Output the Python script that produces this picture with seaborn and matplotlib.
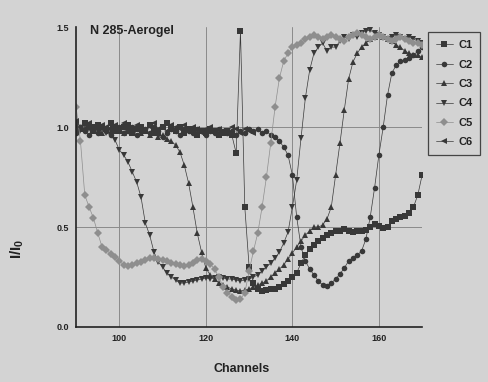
import numpy as np
import pandas as pd
import matplotlib
matplotlib.use("Agg")
import matplotlib.pyplot as plt
import seaborn as sns

channels = list(range(90, 171))

c1 = [1.01, 0.99, 1.02, 1.00, 0.98, 1.01, 1.00, 0.99, 1.02, 1.00,
      0.98, 1.00, 1.01, 0.97, 0.99, 1.00, 0.98, 1.01, 0.99, 0.97,
      1.00, 1.02, 0.99, 0.98, 1.00, 0.97, 0.99, 0.98, 0.96, 0.98,
      0.97, 0.99, 0.98, 0.96, 0.97, 0.98, 0.96, 0.87, 1.48, 0.60,
      0.30, 0.22, 0.19, 0.18, 0.185, 0.19, 0.19, 0.20, 0.215, 0.23,
      0.25, 0.27, 0.32, 0.36, 0.39, 0.41, 0.43, 0.445, 0.46, 0.47,
      0.48, 0.48, 0.49, 0.48, 0.475, 0.48, 0.48, 0.485, 0.50, 0.515,
      0.505, 0.495, 0.50, 0.53, 0.54, 0.55, 0.555, 0.57, 0.60, 0.66,
      0.76]

c2 = [0.97, 1.00, 0.98, 0.96, 0.99, 0.97, 1.00, 0.98, 0.96, 0.99,
      1.00, 0.97, 0.98, 1.00, 0.96, 0.98, 0.99, 0.97, 1.00, 0.98,
      0.95, 0.97, 0.99, 0.98, 0.96, 0.99, 0.98, 0.97, 0.99, 0.98,
      0.96, 0.98, 0.97, 0.99, 0.98, 0.97, 0.98, 0.96, 0.98, 0.97,
      0.99, 0.98, 0.99, 0.97, 0.98, 0.96, 0.95, 0.93, 0.90, 0.86,
      0.76, 0.55, 0.40, 0.33, 0.29, 0.26, 0.23, 0.21, 0.205, 0.22,
      0.24, 0.265, 0.295, 0.33, 0.345, 0.36, 0.38, 0.44, 0.55, 0.695,
      0.86, 1.00, 1.16, 1.27, 1.31, 1.33, 1.335, 1.345, 1.36, 1.38,
      1.40]

c3 = [0.98, 1.00, 0.99, 1.01, 0.98, 1.00, 0.97, 0.99, 1.00, 0.98,
      0.99, 0.97, 1.00, 0.98, 0.99, 0.97, 0.98, 0.96, 0.97, 0.95,
      0.96, 0.94, 0.93, 0.91, 0.875, 0.81, 0.72, 0.60, 0.47, 0.375,
      0.295, 0.26, 0.24, 0.22, 0.21, 0.20, 0.19, 0.185, 0.18, 0.185,
      0.19, 0.20, 0.21, 0.22, 0.23, 0.25, 0.27, 0.29, 0.31, 0.34,
      0.37, 0.40, 0.43, 0.46, 0.48, 0.50, 0.50, 0.51, 0.54, 0.60,
      0.76, 0.92, 1.085, 1.24, 1.325, 1.37, 1.40, 1.42, 1.44, 1.45,
      1.46, 1.45, 1.44, 1.43, 1.41, 1.40, 1.38, 1.37, 1.36, 1.36,
      1.35]

c4 = [1.00, 0.98, 1.01, 0.99, 1.00, 0.98, 0.99, 0.97, 0.96, 0.935,
      0.885, 0.86, 0.825, 0.775, 0.725, 0.65, 0.52, 0.46, 0.375, 0.325,
      0.30, 0.27, 0.25, 0.235, 0.22, 0.22, 0.225, 0.23, 0.235, 0.24,
      0.245, 0.24, 0.245, 0.25, 0.245, 0.24, 0.24, 0.235, 0.23, 0.235,
      0.24, 0.25, 0.26, 0.28, 0.30, 0.32, 0.345, 0.375, 0.42, 0.475,
      0.60, 0.735, 0.945, 1.145, 1.285, 1.37, 1.40, 1.42, 1.38, 1.40,
      1.40, 1.43, 1.45, 1.44, 1.46, 1.45, 1.47, 1.48, 1.485, 1.47,
      1.46, 1.45, 1.44, 1.45, 1.46, 1.45, 1.44, 1.45, 1.44, 1.43,
      1.42]

c5 = [1.10, 0.93, 0.66, 0.60, 0.545, 0.47, 0.40, 0.385, 0.365, 0.35,
      0.33, 0.31, 0.305, 0.31, 0.32, 0.325, 0.335, 0.345, 0.345, 0.34,
      0.335, 0.33, 0.32, 0.315, 0.31, 0.305, 0.31, 0.32, 0.335, 0.34,
      0.33, 0.315, 0.29, 0.25, 0.20, 0.17, 0.15, 0.135, 0.14, 0.17,
      0.28, 0.38, 0.47, 0.60, 0.75, 0.92, 1.10, 1.245, 1.33, 1.37,
      1.40, 1.41, 1.42, 1.44, 1.45, 1.46, 1.45, 1.44, 1.45, 1.46,
      1.45, 1.44, 1.43, 1.45, 1.46, 1.47, 1.46, 1.45, 1.44, 1.45,
      1.46, 1.45, 1.44, 1.43, 1.44, 1.45, 1.44, 1.43, 1.42, 1.42,
      1.41]

c6_channels = list(range(90, 132))
c6 = [1.03, 1.00, 0.99, 1.02, 1.00, 0.99, 1.01, 1.00, 0.98, 1.01,
      0.99, 1.02, 1.00, 0.99, 1.01, 1.00, 0.98, 1.00, 1.02, 0.99,
      1.00, 0.98, 1.01, 1.00, 0.99, 1.01, 0.98, 1.00, 0.99, 0.97,
      0.99, 1.00, 0.98, 0.99, 0.97, 0.98, 1.00, 0.99, 0.97, 0.99,
      0.98, 0.97]

series_names = ["C1", "C2", "C3", "C4", "C5", "C6"]
x_ticks = [100, 120, 140, 160]
y_ticks = [0.0, 0.5, 1.0, 1.5]
y_tick_labels = ["0.0", "0.5", "1.0", "1.5"]

frames = []
for name, vals, ch in [("C1", c1, channels), ("C2", c2, channels),
                       ("C3", c3, channels), ("C4", c4, channels),
                       ("C5", c5, channels), ("C6", c6, c6_channels)]:
    frames.append(pd.DataFrame({"Channels": ch, "I": vals, "series": name}))
df = pd.concat(frames, ignore_index=True)

sns.set_style("white")
bg = "#d3d3d3"
plt.rcParams["font.family"] = ["Liberation Sans", "DejaVu Sans"]
plt.rcParams["mathtext.fontset"] = "custom"
plt.rcParams["mathtext.bf"] = "Liberation Sans:bold"
plt.rcParams["mathtext.rm"] = "Liberation Sans:bold"

fig = plt.figure(figsize=(4.88, 3.82), dpi=100, facecolor=bg)
ax = fig.add_axes([0.156, 0.144, 0.709, 0.785], facecolor=bg)

dark = "#383838"
palette = {"C1": dark, "C2": dark, "C3": dark, "C4": dark, "C5": "#8e8e8e", "C6": dark}
markers = {"C1": "s", "C2": "o", "C3": "^", "C4": "v", "C5": "D", "C6": "<"}

sns.lineplot(data=df, x="Channels", y="I", hue="series", style="series",
             hue_order=series_names, style_order=series_names,
             palette=palette, markers=markers, dashes=False,
             markersize=4, markeredgewidth=0, linewidth=0.5,
             estimator=None, sort=False, ax=ax, legend="full")

ax.set_xlim(90, 170)
ax.set_ylim(0, 1.5)
ax.set_xticks(x_ticks)
ax.set_yticks(y_ticks)
ax.set_yticklabels(y_tick_labels)
ax.tick_params(axis="both", labelsize=6.5, length=3, width=0.8, colors="#222222",
               direction="out", pad=2)
for lab in ax.get_xticklabels() + ax.get_yticklabels():
    lab.set_fontweight("bold")

ax.grid(True, color="#8a8a8a", linewidth=0.7)
ygl = ax.get_ygridlines()
ygl[0].set_visible(False)
ygl[-1].set_visible(False)
ax.set_axisbelow(True)

for s in ["top", "right"]:
    ax.spines[s].set_visible(False)
for s in ["left", "bottom"]:
    ax.spines[s].set_color("#222222")
    ax.spines[s].set_linewidth(1.2)

ax.set_xlabel("Channels", fontsize=9, fontweight="bold", color="#222222")
ax.xaxis.set_label_coords(0.477, -0.12)
ax.set_ylabel(r"$\mathbf{I/I_0}$", fontsize=11, color="#222222")
ax.yaxis.set_label_coords(-0.145, 0.26)

ax.text(0.04, 0.987, "N 285-Aerogel", transform=ax.transAxes, fontsize=9,
        fontweight="bold", color="#222222", va="center", ha="left")

leg = ax.legend(loc="upper left", bbox_to_anchor=(0.866, 0.93),
                bbox_transform=fig.transFigure, frameon=True, fancybox=False,
                fontsize=8, handlelength=1.5, labelspacing=0.85,
                borderpad=0.7, handletextpad=0.5, title=None)
leg.get_frame().set_edgecolor("#222222")
leg.get_frame().set_facecolor(bg)
leg.get_frame().set_linewidth(0.9)
for t in leg.get_texts():
    t.set_fontweight("bold")
    t.set_color("#222222")

fig.savefig("out.png", dpi=100, facecolor=bg)
